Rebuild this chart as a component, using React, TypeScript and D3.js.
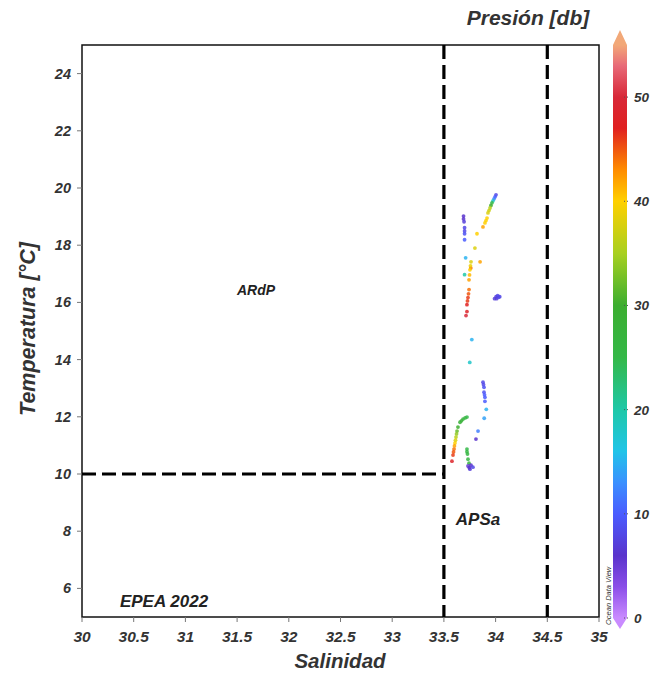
import React from "react";
import * as d3 from "d3";

// Salinity, temperature, pressure samples
const salinity = [
  34.004, 33.995, 33.985, 33.975, 33.965, 33.955, 33.946, 33.936, 33.926, 33.917, 33.907, 33.897, 33.878,
  33.69, 33.69, 33.695, 33.70, 33.70, 33.70, 33.70,
  33.71, 33.82, 33.85, 33.70, 33.80, 33.76,
  33.762, 33.757, 33.752, 33.748, 33.743, 33.743, 33.738, 33.733, 33.728, 33.723, 33.723, 33.714,
  33.99, 34.005, 34.02, 34.04, 34.01, 34.03,
  33.77, 33.75,
  33.878, 33.883, 33.888, 33.888, 33.893, 33.897, 33.897,
  33.91, 33.83, 33.81, 33.89,
  33.723, 33.705, 33.685, 33.67, 33.656, 33.636,
  33.627, 33.622, 33.617, 33.612, 33.607, 33.602, 33.598, 33.593, 33.588, 33.578,
  33.723, 33.723, 33.728, 33.733, 33.743,
  33.733, 33.762, 33.781, 33.752, 33.745,
];
const temperature = [
  19.76, 19.69, 19.62, 19.55, 19.48, 19.39, 19.30, 19.21, 19.13, 18.95, 18.86, 18.78, 18.64,
  19.02, 18.92, 18.82, 18.61, 18.50, 18.40, 18.19,
  17.56, 18.40, 17.42, 16.97, 17.9, 17.2,
  17.42, 17.28, 17.14, 16.96, 16.79, 16.45, 16.30, 16.17, 16.05, 15.92, 15.68, 15.54,
  16.13, 16.20, 16.24, 16.20, 16.13, 16.18,
  14.70, 13.9,
  13.21, 13.12, 13.03, 12.86, 12.77, 12.68, 12.54,
  12.26, 11.50, 11.22, 11.95,
  11.99, 11.96, 11.92, 11.86, 11.81, 11.64,
  11.50, 11.40, 11.29, 11.18, 11.08, 10.98, 10.87, 10.77, 10.66, 10.45,
  10.87, 10.78, 10.70, 10.52, 10.38,
  10.28, 10.31, 10.24, 10.17, 10.22,
];
const pressure = [
  8, 10, 12, 18, 25, 30, 36, 37, 38, 40, 40, 40, 42,
  6, 6, 7, 8, 8, 9, 10,
  15, 40, 42, 20, 38, 44,
  38, 39, 40, 41, 42, 44, 45, 46, 46, 47, 48, 50,
  7, 7, 8, 8, 7, 8,
  15, 18,
  8, 8, 9, 9, 10, 10, 10,
  15, 12, 6, 14,
  25, 26, 27, 28, 28, 30,
  32, 34, 36, 38, 40, 42, 44, 45, 46, 48,
  25, 26, 26, 26, 27,
  5, 6, 8, 7, 6,
];

const xTicks = [30, 30.5, 31, 31.5, 32, 32.5, 33, 33.5, 34, 34.5, 35];
const yTicks = [6, 8, 10, 12, 14, 16, 18, 20, 22, 24];
const cTicks = [0, 10, 20, 30, 40, 50];
const colorStops = [0, 3, 6, 10, 13, 16, 20, 25, 30, 35, 40, 43, 47, 50, 53, 55];
const colorValues = [
  "#c98bff", "#8a4ee8", "#5a34cc", "#4a5cff", "#3a90ff", "#20c4e8", "#1ec8a8",
  "#34b848", "#3cae30", "#a8d020", "#ffd000", "#ff8c00", "#e02020", "#d82838",
  "#e86a78", "#f2a878",
];
const salinityLines = [33.5, 34.5];
const tempLine = 10;

const W = 654;
const H = 675;
const M = { left: 82, right: 599, top: 45, bottom: 617 };
const font = "Liberation Sans, Arial, sans-serif";

export default function App() {
  const x = d3.scaleLinear().domain([30, 35]).range([M.left, M.right]);
  const y = d3.scaleLinear().domain([5, 25]).range([M.bottom, M.top]);
  const color = d3.scaleLinear<string>().domain(colorStops).range(colorValues).clamp(true);
  const cy = d3.scaleLinear().domain([0, 55]).range([618, 45]);
  const cbX = 613;
  const cbW = 14;
  const gradStops = d3.range(0, 55.01, 0.5);

  return (
    <svg width={W} height={H} style={{ position: "absolute", left: 0, top: 0, background: "#fff" }}
      fontFamily={font}>
      <defs>
        <linearGradient id="cb" x1="0" y1="1" x2="0" y2="0">
          {gradStops.map((v) => (
            <stop key={v} offset={`${(v / 55) * 100}%`} stopColor={color(v)} />
          ))}
        </linearGradient>
        <filter id="blur" x="-50%" y="-50%" width="200%" height="200%">
          <feGaussianBlur stdDeviation="0.7" />
        </filter>
      </defs>
      <rect width={W} height={H} fill="#fff" />

      {/* frame */}
      <rect x={M.left} y={M.top} width={M.right - M.left} height={M.bottom - M.top}
        fill="none" stroke="#111" strokeWidth={1.5} />

      {/* dashed lines */}
      {salinityLines.map((s) => (
        <line key={s} x1={x(s)} x2={x(s)} y1={M.top} y2={M.bottom} stroke="#000"
          strokeWidth={3.2} strokeDasharray="14 6" />
      ))}
      <line x1={M.left} x2={x(33.5)} y1={y(tempLine)} y2={y(tempLine)} stroke="#000"
        strokeWidth={3.2} strokeDasharray="14 6" />

      {/* x axis */}
      {xTicks.map((t) => (
        <g key={t}>
          <line x1={x(t)} x2={x(t)} y1={M.bottom} y2={M.bottom + 5} stroke="#777" strokeWidth={1} />
          <text x={x(t)} y={M.bottom + 25} textAnchor="middle" fontSize={15.5} fontStyle="italic"
            fontWeight="bold" fill="#333">{t}</text>
        </g>
      ))}
      <text x={340} y={668} textAnchor="middle" fontSize={20.5} fontStyle="italic" fontWeight="bold"
        fill="#333">Salinidad</text>

      {/* y axis */}
      {yTicks.map((t) => (
        <g key={t}>
          <line x1={M.left - 5} x2={M.left} y1={y(t)} y2={y(t)} stroke="#777" strokeWidth={1} />
          <text x={M.left - 11} y={y(t) + 5} textAnchor="end" fontSize={14.5} fontStyle="italic"
            fontWeight="bold" fill="#333">{t}</text>
        </g>
      ))}
      <text transform={`translate(35,${329}) rotate(-90)`} textAnchor="middle" fontSize={21.5}
        fontStyle="italic" fontWeight="bold" fill="#333">Temperatura [°C]</text>

      {/* labels */}
      <text x={256} y={295} textAnchor="middle" fontSize={14} fontStyle="italic" fontWeight="bold"
        fill="#222">ARdP</text>
      <text x={478} y={525} textAnchor="middle" fontSize={17} fontStyle="italic" fontWeight="bold"
        fill="#222">APSa</text>
      <text x={164} y={607} textAnchor="middle" fontSize={17} fontStyle="italic" fontWeight="bold"
        fill="#222">EPEA 2022</text>

      {/* data */}
      <g filter="url(#blur)">
        {salinity.map((s, i) => (
          <circle key={i} cx={x(s)} cy={y(temperature[i])} r={1.9} fill={color(pressure[i])}
            opacity={0.85} />
        ))}
      </g>

      {/* colorbar */}
      <rect x={cbX} y={cy(55)} width={cbW} height={cy(0) - cy(55)} fill="url(#cb)" />
      <path d={`M${cbX},${cy(55)} L${cbX + cbW / 2},${cy(55) - 15} L${cbX + cbW},${cy(55)} Z`}
        fill={color(55)} />
      <path d={`M${cbX},${cy(0)} L${cbX + cbW / 2},${cy(0) + 11} L${cbX + cbW},${cy(0)} Z`}
        fill={color(0)} />
      {cTicks.map((t) => (
        <g key={t}>
          <line x1={cbX + cbW - 3} x2={cbX + cbW + 3} y1={cy(t)} y2={cy(t)} stroke="#555"
            strokeDasharray="1 2" />
          <text x={cbX + cbW + 7} y={cy(t) + 5} fontSize={13.5} fontStyle="italic" fontWeight="bold"
            fill="#333">{t}</text>
        </g>
      ))}
      <text x={528} y={25} textAnchor="middle" fontSize={21} fontStyle="italic" fontWeight="bold"
        fill="#333">Presión [db]</text>
      <text transform={`translate(611,${625}) rotate(-90)`} fontSize={7.5} fill="#333"
        fontStyle="italic">Ocean Data View</text>
    </svg>
  );
}
